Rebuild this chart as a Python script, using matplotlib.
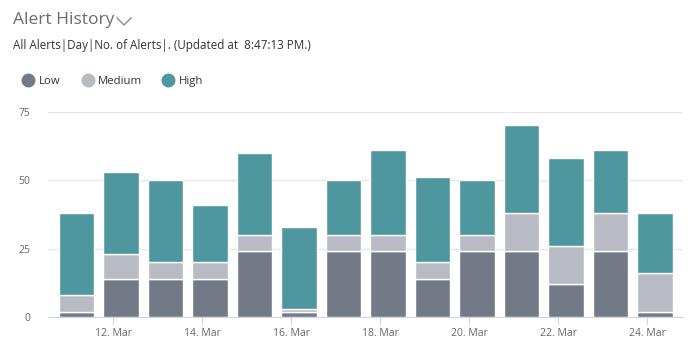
import matplotlib
matplotlib.use("Agg")
from matplotlib import pyplot as plt
from matplotlib.lines import Line2D
import numpy as np

days = ['11. Mar', '12. Mar', '13. Mar', '14. Mar', '15. Mar', '16. Mar', '17. Mar',
        '18. Mar', '19. Mar', '20. Mar', '21. Mar', '22. Mar', '23. Mar', '24. Mar']
low = [2, 14, 14, 14, 24, 2, 24, 24, 14, 24, 24, 12, 24, 2]
medium = [6, 9, 6, 6, 6, 1, 6, 6, 6, 6, 14, 14, 14, 14]
high = [30, 30, 30, 21, 30, 30, 20, 31, 31, 20, 32, 32, 23, 22]

series = [('Low', low, '#737a87'), ('Medium', medium, '#b8bbc3'), ('High', high, '#4f979e')]

plt.rcParams['font.family'] = ['Open Sans', 'DejaVu Sans']

fig = plt.figure(figsize=(7, 3.46), dpi=100)
ax = fig.add_axes([48 / 700, 1 - 317 / 346, 635 / 700, 205.3 / 346])

x = np.arange(len(days))
bottom = np.zeros(len(days))
for name, vals, color in series:
    ax.bar(x + 0.17, vals, width=0.79, bottom=bottom, color=color,
           edgecolor='white', linewidth=1.0, zorder=3)
    bottom += np.array(vals)

ax.set_xlim(-0.47, 13.8)
ax.set_ylim(0, 75)
ax.set_yticks([0, 25, 50, 75])
ax.set_xticks(x[1::2])
ax.set_xticklabels(days[1::2])
ax.grid(axis='y', color='#e6e6e6', linewidth=1, zorder=0)
for s in ['top', 'right', 'left']:
    ax.spines[s].set_visible(False)
ax.spines['bottom'].set_color('#ccd6eb')
ax.tick_params(axis='y', length=0, pad=13, labelsize=7.5, labelcolor='#666666')
ax.tick_params(axis='x', length=6, color='#ccd6eb', pad=2, labelsize=7.5, labelcolor='#666666')

fig.text(13 / 700, 1 - 20 / 346, 'Alert History', fontsize=12.5, color='#6b6b6b', va='center')
fig.add_artist(Line2D([117 / 700, 124 / 700, 131 / 700],
                      [1 - 18 / 346, 1 - 25 / 346, 1 - 18 / 346],
                      color='#8a8a8a', linewidth=1.0))
fig.text(13 / 700, 1 - 46 / 346, 'All Alerts|Day|No. of Alerts|. (Updated at  8:47:13 PM.)',
         fontsize=8.4, color='#333333', va='center')

# legend drawn by hand so spacing matches
leg_marker_x = [28, 88, 168]
leg_text_x = [39, 98, 179]
for (name, _, color), mx, tx in zip(series, leg_marker_x, leg_text_x):
    fig.add_artist(Line2D([mx / 700], [1 - 80 / 346], marker='o', markersize=9,
                          color=color, linestyle=''))
    fig.text(tx / 700, 1 - 80 / 346, name, fontsize=8.2, color='#333333',
             va='center_baseline')

fig.savefig('out.png', dpi=100)
